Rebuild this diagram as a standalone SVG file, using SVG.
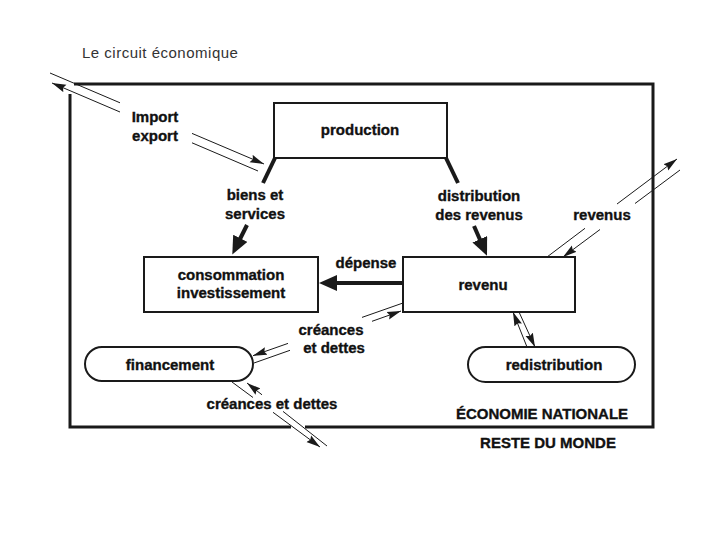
<svg xmlns="http://www.w3.org/2000/svg" width="720" height="540" viewBox="0 0 720 540">
<style>
  .lbl { font-family: "Liberation Sans", Arial, sans-serif; font-weight: bold; font-size: 15px; fill: #111; stroke: #111; stroke-width: 0.35px; }
  .mid { text-anchor: middle; }
  .title { font-family: "Liberation Sans", Arial, sans-serif; font-size: 15px; fill: #333; letter-spacing: 0.5px; }
  .box { fill: #fff; stroke: #1a1a1a; stroke-width: 2; }
  .frame { fill: none; stroke: #1a1a1a; stroke-width: 3; }
  .thin { fill: none; stroke: #1a1a1a; stroke-width: 1; }
  .thick { fill: none; stroke: #1a1a1a; stroke-width: 4; }
</style>
<defs>
  <marker id="ah" markerUnits="userSpaceOnUse" markerWidth="15" markerHeight="9" refX="14" refY="4.5" orient="auto">
    <path d="M0,0.5 L14,4.5 L0,8.5 L2,4.5 z" fill="#1a1a1a"/>
  </marker>
  <marker id="big" markerUnits="userSpaceOnUse" markerWidth="18" markerHeight="16" refX="3" refY="8" orient="auto">
    <path d="M0,0 L18,8 L0,16 z" fill="#1a1a1a"/>
  </marker>
</defs>

<text class="title" x="82" y="58">Le circuit économique</text>

<g id="frame">
  <path class="frame" d="M74,84 H653 V427 H305 M291,427 H70 V94"/>
</g>

<g id="production">
  <rect class="box" x="274" y="103" width="173" height="55"/>
  <text class="lbl mid" x="360" y="135">production</text>
</g>

<g id="consommation">
  <rect class="box" x="144" y="257" width="174" height="55"/>
  <text class="lbl mid" x="231" y="280">consommation</text>
  <text class="lbl mid" x="231" y="298">investissement</text>
</g>

<g id="revenu">
  <rect class="box" x="403" y="257" width="172" height="55"/>
  <text class="lbl mid" x="483" y="290">revenu</text>
</g>

<g id="financement">
  <rect class="box" x="85" y="347" width="168" height="34" rx="17"/>
  <text class="lbl mid" x="170" y="370">financement</text>
</g>

<g id="redistribution">
  <rect class="box" x="468" y="347" width="167" height="35" rx="17.5"/>
  <text class="lbl mid" x="554" y="370">redistribution</text>
</g>

<g id="connectors">
  <!-- production legs -->
  <line class="thick" x1="275" y1="158" x2="263" y2="183"/>
  <line class="thick" x1="446" y1="158" x2="458" y2="183"/>
  <!-- biens et services -->
  <line class="thick" x1="247" y1="225" x2="239" y2="241" marker-end="url(#big)"/>
  <!-- distribution des revenus -->
  <line class="thick" x1="474" y1="226" x2="481" y2="242" marker-end="url(#big)"/>
  <!-- dépense -->
  <line class="thick" x1="403" y1="283" x2="334" y2="283" marker-end="url(#big)"/>

  <!-- import / export -->
  <line class="thin" x1="120" y1="102.8" x2="50" y2="73"/>
  <line class="thin" x1="192" y1="133.4" x2="264" y2="164" marker-end="url(#ah)"/>
  <line class="thin" x1="120" y1="112" x2="52" y2="83" marker-end="url(#ah)"/>
  <line class="thin" x1="192" y1="142.8" x2="258" y2="171"/>

  <!-- revenus (reste du monde) -->
  <line class="thin" x1="547" y1="257" x2="585" y2="228.3"/>
  <line class="thin" x1="617" y1="204" x2="677" y2="159" marker-end="url(#ah)"/>
  <line class="thin" x1="680" y1="170" x2="635" y2="203.5"/>
  <line class="thin" x1="600" y1="229.5" x2="563" y2="257" marker-end="url(#ah)"/>

  <!-- créances et dettes (revenu / financement) -->
  <line class="thin" x1="403" y1="303" x2="362" y2="317.4"/>
  <line class="thin" x1="288" y1="343.4" x2="253" y2="355.7" marker-end="url(#ah)"/>
  <line class="thin" x1="254" y1="363" x2="290" y2="350.3"/>
  <line class="thin" x1="372" y1="321.3" x2="401" y2="311" marker-end="url(#ah)"/>

  <!-- créances et dettes (financement / reste du monde) -->
  <line class="thin" x1="232" y1="382" x2="253" y2="397.5"/>
  <line class="thin" x1="273" y1="412.3" x2="320" y2="447" marker-end="url(#ah)"/>
  <line class="thin" x1="327" y1="446" x2="283" y2="411.4"/>
  <line class="thin" x1="262" y1="394.8" x2="247" y2="383" marker-end="url(#ah)"/>

  <!-- revenu / redistribution -->
  <line class="thin" x1="527" y1="347" x2="513" y2="312" marker-end="url(#ah)"/>
  <line class="thin" x1="519" y1="312" x2="535" y2="347" marker-end="url(#ah)"/>
</g>

<g id="labels">
  <text class="lbl mid" x="155" y="122">Import</text>
  <text class="lbl mid" x="155" y="141">export</text>
  <text class="lbl mid" x="255" y="200">biens et</text>
  <text class="lbl mid" x="255" y="219">services</text>
  <text class="lbl mid" x="479" y="201">distribution</text>
  <text class="lbl mid" x="479" y="220">des revenus</text>
  <text class="lbl mid" x="602" y="220">revenus</text>
  <text class="lbl mid" x="366" y="268">dépense</text>
  <text class="lbl mid" x="331" y="335">créances</text>
  <text class="lbl mid" x="334" y="353">et dettes</text>
  <text class="lbl mid" x="272" y="409">créances et dettes</text>
  <text class="lbl mid" x="542" y="419">ÉCONOMIE NATIONALE</text>
  <text class="lbl mid" x="548" y="448">RESTE DU MONDE</text>
</g>
</svg>
